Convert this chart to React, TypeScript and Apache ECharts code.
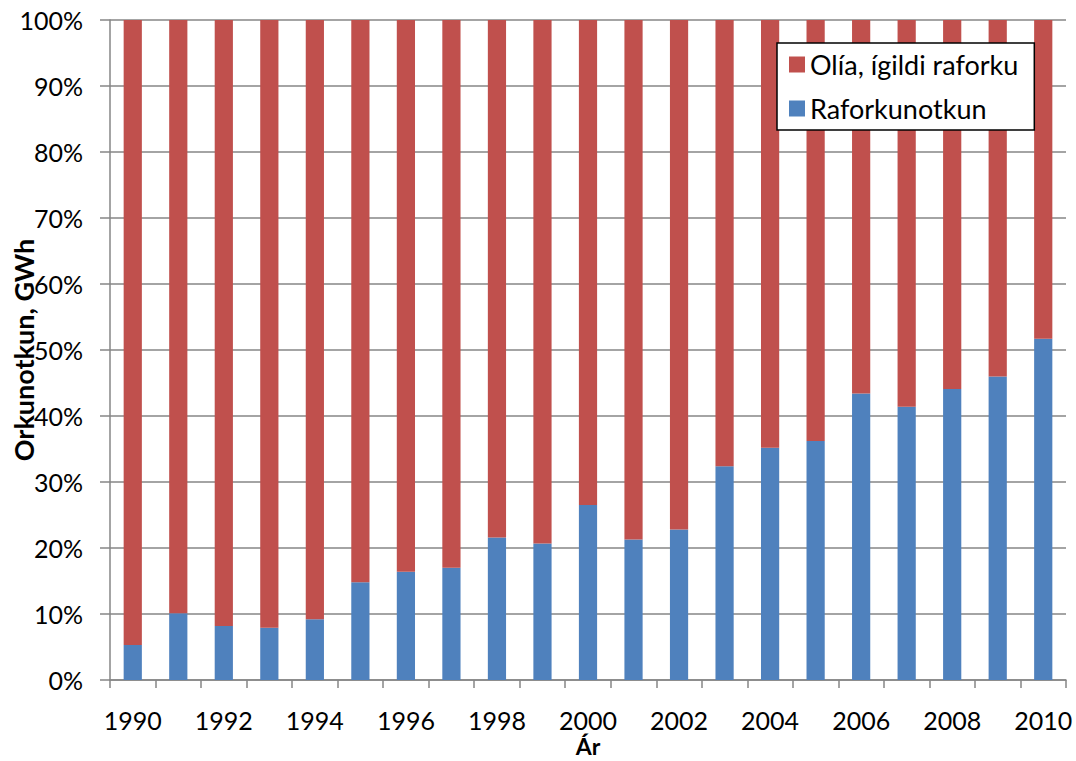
import React, { useEffect, useRef } from "react";
import * as echarts from "echarts";

const years = ["1990","1991","1992","1993","1994","1995","1996","1997","1998","1999","2000","2001","2002","2003","2004","2005","2006","2007","2008","2009","2010"];
const raforkunotkun = [5.3, 10.1, 8.2, 7.9, 9.2, 14.8, 16.4, 17.0, 21.6, 20.7, 26.5, 21.3, 22.8, 32.4, 35.2, 36.2, 43.4, 41.4, 44.1, 46.0, 51.7];
const olia = [94.7, 89.9, 91.8, 92.1, 90.8, 85.2, 83.6, 83.0, 78.4, 79.3, 73.5, 78.7, 77.2, 67.6, 64.8, 63.8, 56.6, 58.6, 55.9, 54.0, 48.3];

const FONT = "Lato, 'Noto Sans', sans-serif";

export default function App() {
  const ref = useRef<HTMLDivElement>(null);
  useEffect(() => {
    document.body.style.margin = "0";
    const chart = echarts.init(ref.current!, null, { renderer: "svg" });
    chart.setOption({
      animation: false,
      backgroundColor: "#ffffff",
      textStyle: { fontFamily: FONT },
      grid: { left: 110, right: 10, top: 20, bottom: 81, outerBoundsMode: "none", containLabel: false },
      legend: {
        orient: "vertical",
        left: 777,
        top: 43,
        data: ["Olía, ígildi raforku", "Raforkunotkun"],
        icon: "rect",
        itemWidth: 16,
        itemHeight: 16,
        itemGap: 17,
        padding: [8, 16, 8, 12],
        backgroundColor: "#ffffff",
        borderColor: "#000000",
        borderWidth: 1.5,
        textStyle: { fontSize: 27, color: "#000", fontFamily: FONT },
      },
      xAxis: {
        type: "category",
        data: years,
        name: "Ár",
        nameLocation: "middle",
        nameGap: 55,
        nameMoveOverlap: false,
        nameTextStyle: { fontSize: 23, fontWeight: "bold", color: "#000", fontFamily: FONT, lineHeight: 22 },
        axisLine: { lineStyle: { color: "#868686", width: 1.5 } },
        axisTick: { show: true, interval: 0, length: 8, lineStyle: { color: "#868686", width: 1.5 } },
        axisLabel: { interval: 1, margin: 28, fontSize: 25, color: "#000", fontFamily: FONT, lineHeight: 23 },
      },
      yAxis: {
        type: "value",
        min: 0,
        max: 100,
        interval: 10,
        name: "Orkunotkun, GWh",
        nameLocation: "middle",
        nameGap: 73,
        nameMoveOverlap: false,
        nameTextStyle: { fontSize: 27, fontWeight: "bold", color: "#000", fontFamily: FONT },
        axisLine: { show: true, lineStyle: { color: "#868686", width: 1.5 } },
        axisTick: { show: true, length: 10, lineStyle: { color: "#868686", width: 1.5 } },
        axisLabel: { formatter: "{value}%", margin: 27, fontSize: 25, color: "#000", fontFamily: FONT },
        splitLine: { show: true, lineStyle: { color: "#868686", width: 1.5 } },
      },
      series: [
        {
          name: "Raforkunotkun",
          type: "bar",
          stack: "total",
          data: raforkunotkun,
          barWidth: "40%",
          itemStyle: { color: "#4F81BD" },
        },
        {
          name: "Olía, ígildi raforku",
          type: "bar",
          stack: "total",
          data: olia,
          barWidth: "40%",
          itemStyle: { color: "#C0504D" },
        },
      ],
    });
    return () => chart.dispose();
  }, []);
  return <div ref={ref} style={{ width: 1076, height: 761 }} />;
}
